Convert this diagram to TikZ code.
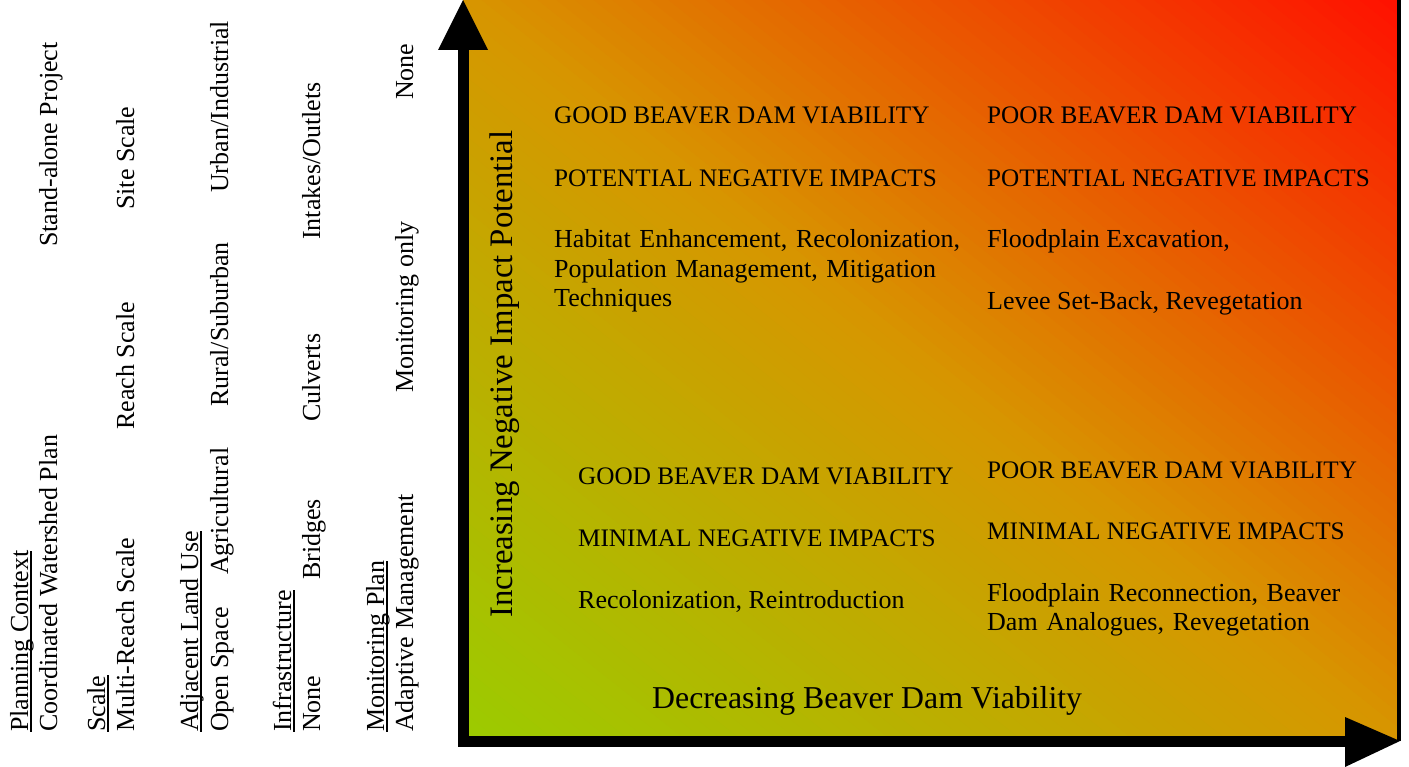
\documentclass[tikz,border=0pt]{standalone}
\usepackage{fontspec}
\setmainfont{Liberation Serif}
\definecolor{cgreen}{RGB}{155,204,0}
\definecolor{corange}{RGB}{215,150,0}
\definecolor{cred}{RGB}{255,17,0}
\newcommand\uln[1]{\leavevmode\setbox0=\hbox{#1}\rlap{\vrule width\wd0 height -1.6pt depth 3.6pt}\box0}
\begin{document}
\begin{tikzpicture}[x=1pt,y=-1pt,
  txt/.style={inner sep=0pt, anchor=base west, font=\fontsize{26}{29.5}\selectfont},
  caps/.style={txt, font=\fontsize{25.2}{29.5}\selectfont},
  para/.style={txt, text width=440pt, align=left},
  side/.style={txt, rotate=90},
  axislabel/.style={inner sep=0pt, anchor=base west, font=\fontsize{31.8}{36}\selectfont},
  shaft/.style={line width=11pt, black}]
\useasboundingbox (0,0) rectangle (1409,767);
% gradient field
\begin{scope}
\clip (463,0) rectangle (1397,741);
\begin{scope}[shift={(463,741)}, x=934pt, y=741pt]
\foreach \j in {0,...,99}{
  \pgfmathsetmacro\a{\j/100}
  \pgfmathsetmacro\b{(\j+1.8)/100}
  \pgfmathsetmacro\t{(\j+0.5)/100}
  \ifnum\j<50
    \pgfmathsetmacro\p{\t*200}
    \colorlet{band}{corange!\p!cgreen}
  \else
    \pgfmathsetmacro\p{(\t-0.5)*200}
    \colorlet{band}{cred!\p!corange}
  \fi
  \fill[band] ({2*\a+2},-2) -- (-2,{2*\a+2}) -- (-2,{2*\b+2}) -- ({2*\b+2},-2) -- cycle;
}
\end{scope}
\end{scope}
\draw[line width=3.5pt] (1399,0) -- (1399,741);
% axes
\coordinate (ytip) at (463,0);
\coordinate (ybase) at (463,48);
\coordinate (origin) at (463,741);
\coordinate (xbase) at (1347,741);
\coordinate (xtip) at (1400,741);
\draw[shaft] (ybase) -- (origin) -- (xbase);
\fill (ytip) -- ++(-25,50) -- ++(50,0) -- cycle;
\fill (xtip) -- ++(-55,-24) -- ++(0,50) -- cycle;
% axis labels
\node[axislabel] (xlabel) at (652,708) {Decreasing Beaver Dam Viability};
\node[axislabel, rotate=90, font=\fontsize{32.8}{36}\selectfont] (ylabel) at (512,618) {Increasing Negative Impact Potential};
% quadrants
\node[caps] (tl1) at (554,124) {GOOD BEAVER DAM VIABILITY};
\node[caps] (tl2) at (554,187) {POTENTIAL NEGATIVE IMPACTS};
\node[para] (tl3) at (554,248) {Habitat Enhancement, Recolonization,\\Population Management, Mitigation\\Techniques};
\node[caps] (tr1) at (987,124) {POOR BEAVER DAM VIABILITY};
\node[caps] (tr2) at (987,187) {POTENTIAL NEGATIVE IMPACTS};
\node[txt] (tr3) at (987,248) {Floodplain Excavation,};
\node[txt] (tr4) at (987,310) {Levee Set-Back, Revegetation};
\node[caps] (bl1) at (578,484) {GOOD BEAVER DAM VIABILITY};
\node[caps] (bl2) at (578,546) {MINIMAL NEGATIVE IMPACTS};
\node[txt] (bl3) at (578,608) {Recolonization, Reintroduction};
\node[caps] (br1) at (987,478) {POOR BEAVER DAM VIABILITY};
\node[caps] (br2) at (987,539) {MINIMAL NEGATIVE IMPACTS};
\node[para] (br3) at (987,601) {Floodplain Reconnection, Beaver\\Dam Analogues, Revegetation};
% side criteria
\node[side] (pc) at (28,732) {\uln{Planning Context}};
\node[side] (pc1) at (57,732) {Coordinated Watershed Plan};
\node[side] (pc2) at (57,247) {Stand-alone Project};
\node[side] (sc) at (105,732) {\uln{Scale}};
\node[side] (sc1) at (134,732) {Multi-Reach Scale};
\node[side] (sc2) at (134,430) {Reach Scale};
\node[side] (sc3) at (134,210) {Site Scale};
\node[side] (lu) at (198,732) {\uln{Adjacent Land Use}};
\node[side] (lu1) at (228,732) {Open Space};
\node[side] (lu2) at (228,575) {Agricultural};
\node[side] (lu3) at (228,407) {Rural/Suburban};
\node[side] (lu4) at (228,193) {Urban/Industrial};
\node[side] (in) at (291,732) {\uln{Infrastructure}};
\node[side] (in1) at (320,732) {None};
\node[side] (in2) at (320,580) {Bridges};
\node[side] (in3) at (320,422) {Culverts};
\node[side] (in4) at (320,240) {Intakes/Outlets};
\node[side] (mp) at (384,732) {\uln{Monitoring Plan}};
\node[side] (mp1) at (413,732) {Adaptive Management};
\node[side] (mp2) at (413,393) {Monitoring only};
\node[side] (mp3) at (413,100) {None};
\end{tikzpicture}
\end{document}
